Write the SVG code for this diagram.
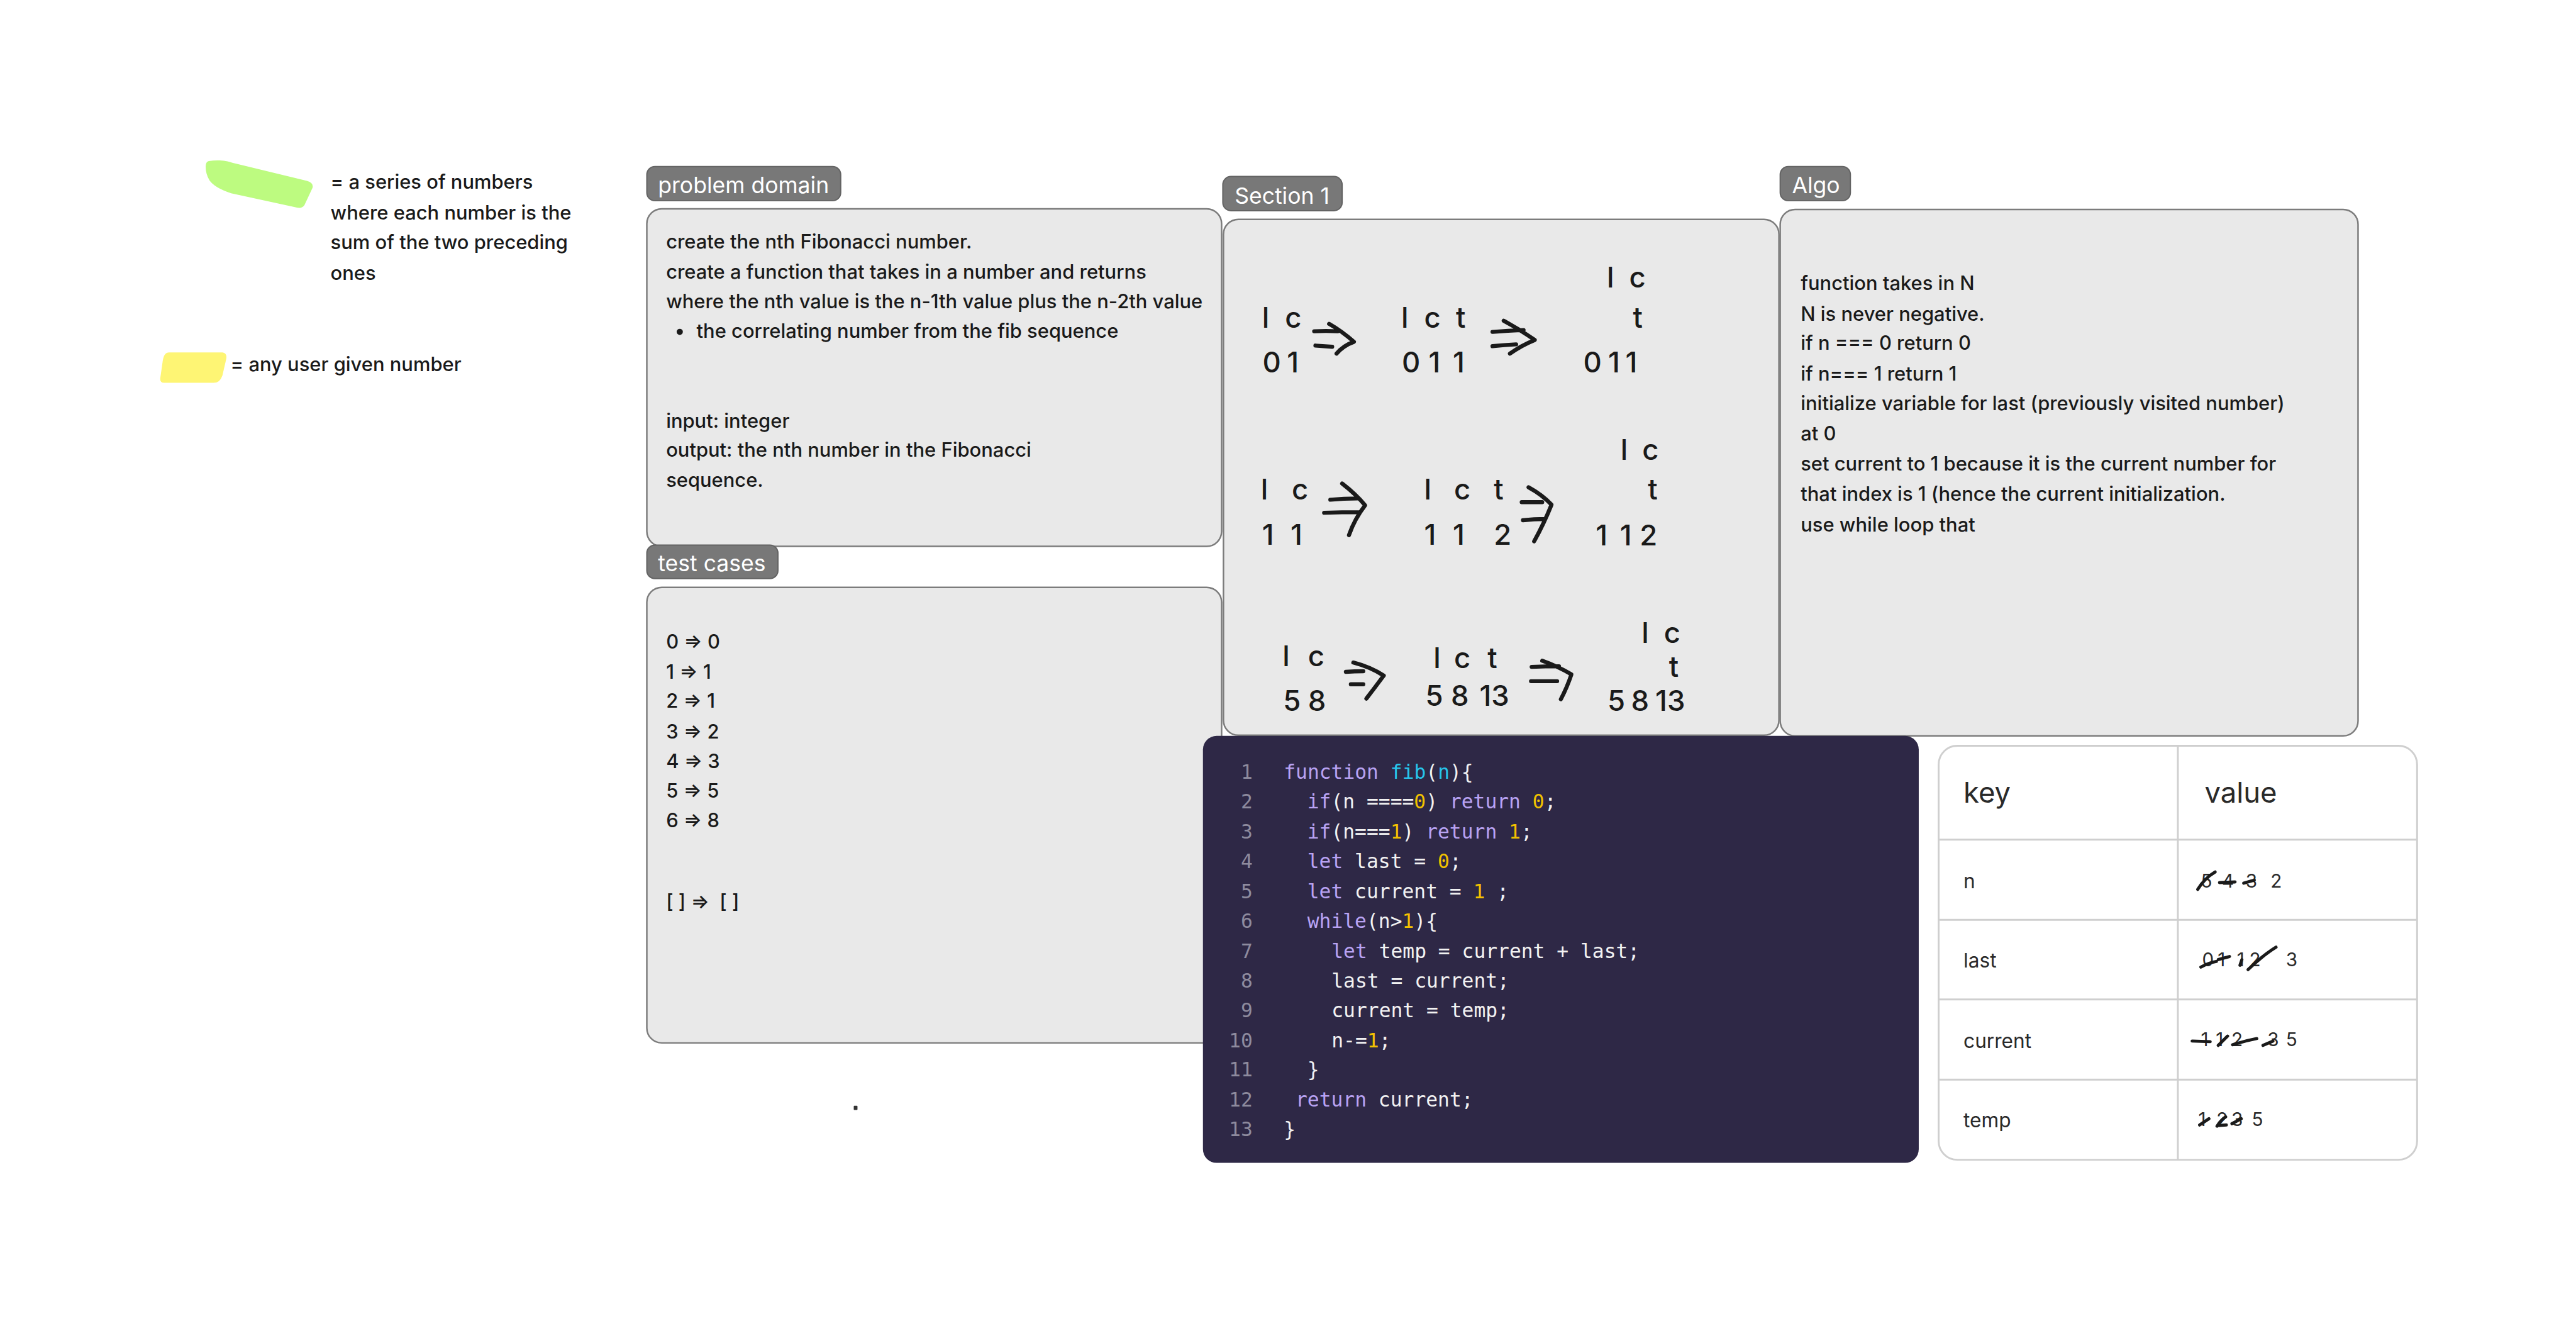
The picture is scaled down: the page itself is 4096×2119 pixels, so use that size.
<svg xmlns="http://www.w3.org/2000/svg" width="4096" height="2119" viewBox="0 0 4096 2119">
<style>
.t{font-family:Inter,"Liberation Sans",sans-serif;font-size:31.3px;font-weight:500;fill:#1a1a1a}
.lg{font-family:Inter,"Liberation Sans",sans-serif;font-size:31.3px;font-weight:500;fill:#1a1a1a}
.lbl{font-family:Inter,"Liberation Sans",sans-serif;font-size:36px;fill:#ffffff}
.lblr{fill:#787878;stroke:#636363;stroke-width:2}
.box{fill:#e9e9e9;stroke:#7c7c7c;stroke-width:2.5}
.big{font-family:Inter,"Liberation Sans",sans-serif;font-size:46px;font-weight:500;fill:#1a1a1a}
.hand{fill:none;stroke:#1a1a1a;stroke-width:6.5;stroke-linecap:round;stroke-linejoin:round}
.scr{fill:none;stroke:#1a1a1a;stroke-width:5;stroke-linecap:round}
.code{font-family:"DejaVu Sans Mono","Liberation Mono",monospace;font-size:31.7px;fill:#f2f2f2}
.ln{font-family:"DejaVu Sans Mono","Liberation Mono",monospace;font-size:31.7px;fill:#8e8b9e;text-anchor:end}
.k{fill:#b9a3f3}
.f{fill:#27c6ec}
.y{fill:#f2c200}
.tb{font-family:Inter,"Liberation Sans",sans-serif;font-size:32px;fill:#2a2a2a}
.th{font-family:Inter,"Liberation Sans",sans-serif;font-size:46px;fill:#2a2a2a}
.tv{font-family:Inter,"Liberation Sans",sans-serif;font-size:30px;fill:#2a2a2a}
.grid{stroke:#cfcfcf;stroke-width:3;fill:none}
</style>
<rect width="4096" height="2119" fill="#ffffff"/>
<g transform="scale(0.988)">
<g id="legend">
<path d="M 336 259 C 350 257 365 258 374 262 L 494 291 Q 505 294 503 302 L 490 330 Q 486 336 478 334 L 372 311 Q 345 302 337 290 Q 331 280 331 268 Q 331 260 336 259 Z" fill="#bdfb80"/>
<text class="lg" x="532" y="304">= a series of numbers</text>
<text class="lg" x="532" y="353">where each number is the</text>
<text class="lg" x="532" y="401">sum of the two preceding</text>
<text class="lg" x="532" y="450">ones</text>
<path d="M 272 567 L 358 567 Q 366 568 364 578 L 358 604 Q 354 616 344 616 L 264 616 Q 257 616 258 608 L 262 580 Q 264 567 272 567 Z" fill="#fef574"/>
<text class="lg" x="371" y="597">= any user given number</text>
</g>
<g id="problem-domain">
<rect class="lblr" x="1041" y="268" width="312" height="55" rx="13"/>
<text class="lbl" x="1059" y="311">problem domain</text>
<rect class="box" x="1041" y="336" width="925" height="543" rx="24"/>
<text class="t" x="1072" y="400">create the nth Fibonacci number.</text>
<text class="t" x="1072" y="448">create a function that takes in a number and returns</text>
<text class="t" x="1072" y="496">where the nth value is the n-1th value plus the n-2th value</text>
<circle cx="1094" cy="534" r="5" fill="#1a1a1a"/>
<text class="t" x="1121" y="544">the correlating number from the fib sequence</text>
<text class="t" x="1072" y="688">input: integer</text>
<text class="t" x="1072" y="735">output: the nth number in the Fibonacci</text>
<text class="t" x="1072" y="783">sequence.</text>
</g>
<g id="test-cases">
<rect class="lblr" x="1041" y="877" width="211" height="54" rx="13"/>
<text class="lbl" x="1059" y="919">test cases</text>
<rect class="box" x="1041" y="945" width="925" height="733" rx="24"/>
<text class="t" x="1072" y="1044">0 ⇒ 0</text>
<text class="t" x="1072" y="1092">1 ⇒ 1</text>
<text class="t" x="1072" y="1139">2 ⇒ 1</text>
<text class="t" x="1072" y="1188">3 ⇒ 2</text>
<text class="t" x="1072" y="1236">4 ⇒ 3</text>
<text class="t" x="1072" y="1283">5 ⇒ 5</text>
<text class="t" x="1072" y="1331">6 ⇒ 8</text>
<text class="t" x="1072" y="1462" xml:space="preserve">[ ] ⇒  [ ]</text>
</g>
<g id="section-1">
<rect class="lblr" x="1968" y="284" width="192" height="55" rx="13"/>
<text class="lbl" x="1987" y="328">Section 1</text>
<rect class="box" x="1969" y="353" width="894" height="830" rx="24"/>
<text class="big" x="2031 2068" y="527">lc</text>
<text class="big" x="2032 2071" y="599">01</text>
<text class="big" x="2255 2292 2343" y="527">lct</text>
<text class="big" x="2256 2299 2338" y="599">011</text>
<text class="big" x="2586 2622" y="463">lc</text>
<text class="big" x="2628" y="527">t</text>
<text class="big" x="2548 2588 2616" y="599">011</text>
<text class="big" x="2029 2079" y="804">lc</text>
<text class="big" x="2031 2077" y="877">11</text>
<text class="big" x="2292 2340 2404" y="804">lct</text>
<text class="big" x="2292 2338 2404" y="877">112</text>
<text class="big" x="2608 2643" y="740">lc</text>
<text class="big" x="2652" y="804">t</text>
<text class="big" x="2568 2607 2639" y="878">112</text>
<text class="big" x="2064 2105" y="1072">lc</text>
<text class="big" x="2065 2105" y="1144">58</text>
<text class="big" x="2307 2340 2394" y="1075">lct</text>
<text class="big" x="2294 2335 2381" y="1136">5813</text>
<text class="big" x="2642 2678" y="1034">lc</text>
<text class="big" x="2686" y="1089">t</text>
<text class="big" x="2587 2625 2664" y="1144">5813</text>
</g>
<g id="algo">
<rect class="lblr" x="2865" y="268" width="113" height="55" rx="13"/>
<text class="lbl" x="2884" y="311">Algo</text>
<rect class="box" x="2865" y="337" width="930" height="847" rx="24"/>
<text class="t" x="2898" y="467">function takes in N</text>
<text class="t" x="2898" y="516">N is never negative.</text>
<text class="t" x="2898" y="563">if n === 0 return 0</text>
<text class="t" x="2898" y="612">if n=== 1 return 1</text>
<text class="t" x="2898" y="660">initialize variable for last (previously visited number)</text>
<text class="t" x="2898" y="708">at 0</text>
<text class="t" x="2898" y="757">set current to 1 because it is the current number for</text>
<text class="t" x="2898" y="806">that index is 1 (hence the current initialization.</text>
<text class="t" x="2898" y="855">use while loop that</text>
</g>
<g id="connectors">
<path class="hand" d="M 2115 533 Q 2134 532 2153 533 M 2117 556 Q 2130 557 2144 558 M 2139 521 Q 2160 533 2179 550 Q 2162 556 2151 569"/>
<path class="hand" d="M 2402 534 Q 2427 532 2452 531 M 2402 557 Q 2421 555 2440 554 M 2420 516 Q 2446 530 2470 547 Q 2448 556 2430 569"/>
<path class="hand" d="M 2141 804 Q 2163 802 2185 802 M 2131 825 Q 2160 824 2188 824 M 2160 778 Q 2182 795 2197 813 Q 2180 835 2171 861"/>
<path class="hand" d="M 2449 808 Q 2466 808 2482 808 M 2451 837 Q 2469 835 2487 835 M 2460 784 Q 2482 796 2497 812 Q 2485 842 2469 871"/>
<path class="hand" d="M 2166 1081 Q 2180 1080 2194 1080 M 2174 1101 Q 2184 1101 2194 1101 M 2178 1066 Q 2205 1073 2227 1087 Q 2213 1106 2199 1124"/>
<path class="hand" d="M 2465 1073 Q 2487 1072 2509 1072 M 2464 1096 Q 2485 1096 2506 1096 M 2482 1063 Q 2507 1072 2529 1085 Q 2522 1106 2512 1125"/>
</g>
<g id="code">
<rect x="1936" y="1184" width="1152" height="687" rx="22" fill="#2e2846"/>
<text class="ln" x="2016" y="1253">1</text>
<text class="ln" x="2016" y="1301">2</text>
<text class="ln" x="2016" y="1349">3</text>
<text class="ln" x="2016" y="1397">4</text>
<text class="ln" x="2016" y="1445">5</text>
<text class="ln" x="2016" y="1493">6</text>
<text class="ln" x="2016" y="1541">7</text>
<text class="ln" x="2016" y="1589">8</text>
<text class="ln" x="2016" y="1637">9</text>
<text class="ln" x="2016" y="1685">10</text>
<text class="ln" x="2016" y="1732">11</text>
<text class="ln" x="2016" y="1780">12</text>
<text class="ln" x="2016" y="1828">13</text>
<text class="code" x="2066" y="1253"><tspan class="k">function</tspan> <tspan class="f">fib</tspan>(<tspan class="f">n</tspan>){</text>
<text class="code" x="2104" y="1301"><tspan class="k">if</tspan>(n ====<tspan class="y">0</tspan>) <tspan class="k">return</tspan> <tspan class="y">0</tspan>;</text>
<text class="code" x="2104" y="1349"><tspan class="k">if</tspan>(n===<tspan class="y">1</tspan>) <tspan class="k">return</tspan> <tspan class="y">1</tspan>;</text>
<text class="code" x="2104" y="1397"><tspan class="k">let</tspan> last = <tspan class="y">0</tspan>;</text>
<text class="code" x="2104" y="1445"><tspan class="k">let</tspan> current = <tspan class="y">1</tspan> ;</text>
<text class="code" x="2104" y="1493"><tspan class="k">while</tspan>(n&gt;<tspan class="y">1</tspan>){</text>
<text class="code" x="2143" y="1541"><tspan class="k">let</tspan> temp = current + last;</text>
<text class="code" x="2143" y="1589">last = current;</text>
<text class="code" x="2143" y="1637">current = temp;</text>
<text class="code" x="2143" y="1685">n-=<tspan class="y">1</tspan>;</text>
<text class="code" x="2104" y="1732">}</text>
<text class="code" x="2085" y="1780"><tspan class="k">return</tspan> current;</text>
<text class="code" x="2066" y="1828">}</text>
</g>
<g id="table">
<rect x="3120" y="1200" width="770" height="666" rx="30" fill="#ffffff" stroke="#cfcfcf" stroke-width="3"/>
<path class="grid" d="M 3505 1200 V 1866 M 3120 1351 H 3890 M 3120 1480 H 3890 M 3120 1608 H 3890 M 3120 1737 H 3890"/>
<text class="th" x="3160" y="1292">key</text>
<text class="th" x="3548" y="1292">value</text>
<text class="tb" x="3160" y="1429">n</text>
<text class="tb" x="3160" y="1557">last</text>
<text class="tb" x="3160" y="1686">current</text>
<text class="tb" x="3160" y="1814">temp</text>
<text class="tv" x="3542 3576 3614 3654" y="1428">5432</text>
<text class="tv" x="3544 3569 3600 3620 3679" y="1555">01123</text>
<text class="tv" x="3542 3566 3591 3649 3679" y="1683">11235</text>
<text class="tv" x="3538 3567 3591 3624" y="1812">1235</text>
<path class="scr" d="M 3537 1431 Q 3548 1413 3565 1403 M 3572 1420 L 3597 1419 M 3611 1421 L 3628 1416"/>
<path class="scr" d="M 3542 1556 Q 3555 1549 3567 1547 M 3570 1544 L 3588 1539 M 3605 1553 L 3608 1544 M 3618 1560 Q 3642 1537 3663 1524"/>
<path class="scr" d="M 3528 1675 L 3557 1676 M 3570 1682 L 3585 1667 M 3593 1681 Q 3612 1675 3632 1671 M 3642 1682 L 3658 1675"/>
<path class="scr" d="M 3540 1810 L 3555 1800 M 3568 1812 Q 3574 1802 3582 1797 M 3569 1811 L 3583 1810 M 3592 1808 L 3607 1800"/>
</g>
<rect id="dot" x="1374" y="1779" width="6" height="7" rx="1" fill="#333333"/>
</g>
</svg>
